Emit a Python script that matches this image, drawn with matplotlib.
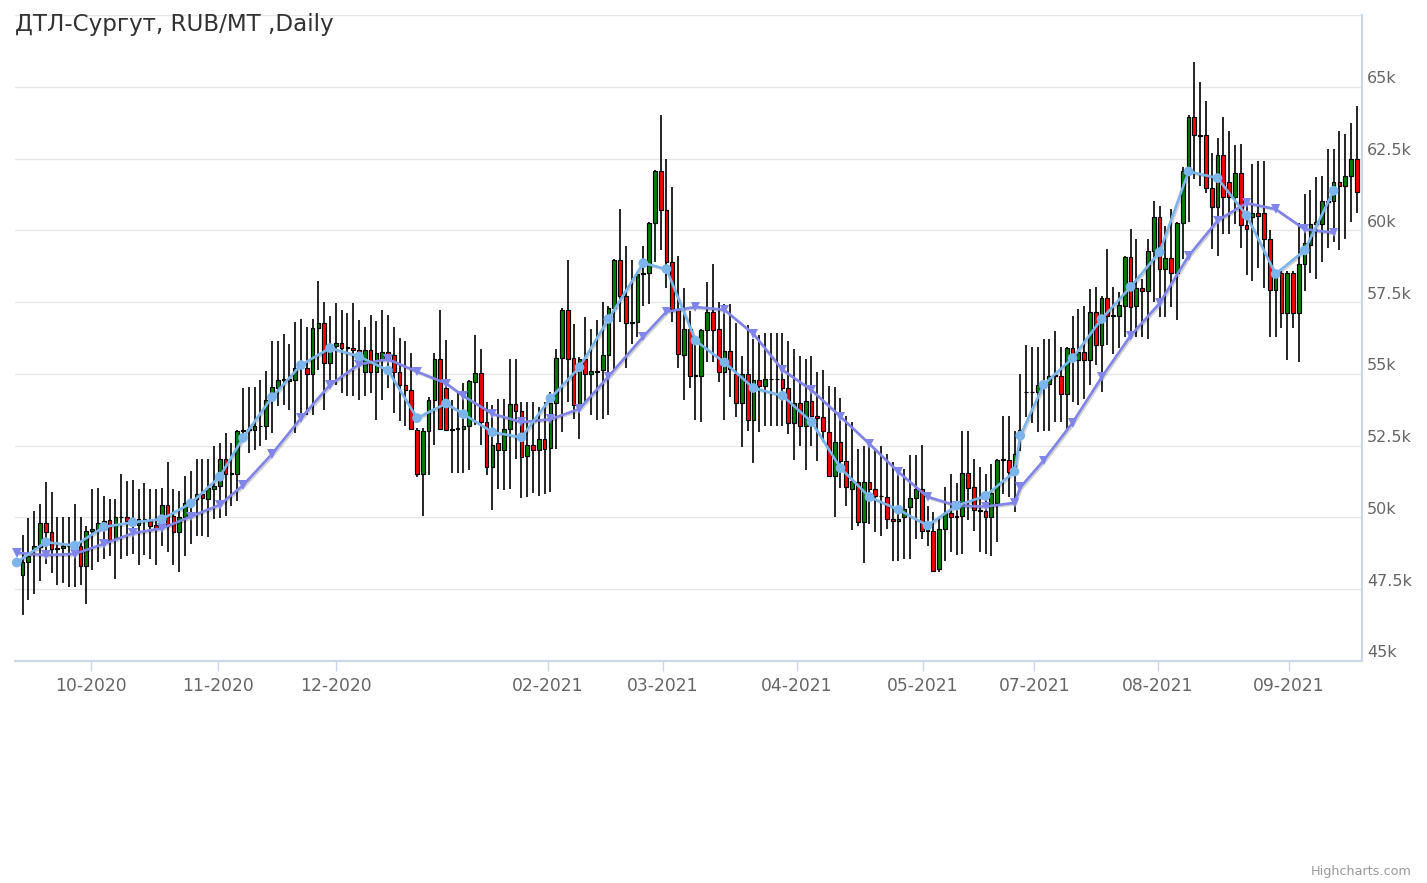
import matplotlib
matplotlib.use("Agg")
import matplotlib.pyplot as plt
import matplotlib.patheffects as pe
import matplotlib.transforms as mtransforms

title = "ДТЛ-Сургут, RUB/MT ,Daily"

# prices in thousand RUB per MT, one entry per trading day (ordinal axis)
opens = [
    48.0, 48.44, 48.9, 48.96, 49.79, 49.48, 48.9, 48.93, 49.02, 48.99,
    49.02, 48.3, 49.54, 49.57, 49.74, 49.9, 49.25, 50.0, 50.0, 49.88,
    49.73, 49.94, 49.88, 49.74, 49.69, 50.44, 50.04, 49.48, 50.0, 50.46,
    50.63, 50.81, 50.63, 50.98, 51.1, 52.04, 51.53, 51.53, 53.0, 53.05,
    53.06, 53.17, 53.2, 54.1, 54.51, 54.8, 54.74, 54.8, 55.2, 55.2,
    54.99, 56.6, 56.77, 55.38, 55.96, 56.07, 55.9, 55.9, 55.82, 55.05,
    55.82, 55.05, 55.49, 55.76, 55.67, 55.05, 54.62, 54.45, 53.06, 51.5,
    53.0, 54.08, 55.52, 54.52, 53.06, 53.09, 53.09, 53.17, 54.72, 55.03,
    53.33, 51.77, 52.58, 52.35, 53.08, 53.94, 53.7, 52.14, 52.51, 52.35,
    52.72, 52.43, 53.97, 55.56, 57.24, 55.56, 53.91, 55.51, 54.98, 55.1,
    55.13, 55.65, 57.29, 58.97, 57.71, 56.78, 56.8, 58.48, 58.52, 60.25,
    62.06, 60.71, 58.91, 57.27, 55.65, 56.55, 54.93, 54.91, 56.53, 57.15,
    56.57, 55.06, 55.81, 55.0, 53.99, 55.0, 53.41, 54.79, 54.57, 54.83,
    54.83, 54.83, 54.5, 53.29, 53.99, 53.17, 54.05, 53.55, 53.49, 52.97,
    51.45, 52.62, 51.98, 50.99, 51.22, 49.83, 51.22, 50.99, 50.76, 50.7,
    49.94, 49.88, 50.03, 50.35, 50.66, 50.99, 49.53, 49.53, 48.2, 49.59,
    50.17, 50.0, 50.06, 51.55, 51.05, 50.25, 50.23, 50.0, 50.52, 52.01,
    52.01, 51.6, 53.0, 54.36, 54.36, 54.36, 54.62, 54.65, 54.94, 54.94,
    54.3, 55.91, 55.47, 55.76, 55.47, 57.15, 55.99, 57.64, 57.03, 57.01,
    57.38, 59.07, 57.38, 58.0, 57.88, 59.29, 60.45, 58.66, 59.04, 58.5,
    60.24, 62.07, 63.95, 63.32, 63.32, 61.47, 60.8, 62.62, 61.69, 61.17,
    61.99, 60.2, 60.47, 60.59, 60.59, 59.7, 57.93, 58.5, 57.12, 58.5,
    57.12, 58.81, 59.5, 60.22, 60.22, 61.03, 61.03, 61.69, 61.55, 61.9,
    62.5,
]
highs = [
    49.4, 49.97, 50.23, 50.46, 51.23, 50.89, 50.0, 50.0, 50.0, 50.46,
    50.0, 49.71, 50.98, 51.04, 50.73, 50.63, 50.63, 51.5, 51.27, 51.3,
    50.98, 51.2, 50.98, 50.98, 51.04, 51.94, 50.98, 50.92, 51.44, 51.61,
    52.04, 52.04, 52.02, 52.5, 52.59, 52.94, 52.59, 53.05, 54.5, 54.56,
    54.56, 54.8, 55.09, 56.13, 56.13, 56.39, 56.04, 56.8, 56.9, 56.65,
    56.9, 58.25, 57.52, 57.0, 57.47, 57.23, 57.12, 57.47, 56.88, 56.65,
    57.06, 56.83, 57.21, 57.06, 56.65, 56.25, 56.13, 55.73, 53.1, 53.1,
    54.2, 55.73, 57.23, 56.19, 54.1, 54.33, 54.68, 54.8, 56.34, 55.88,
    54.02, 53.9, 54.14, 54.14, 55.53, 55.53, 54.02, 54.02, 54.02, 53.85,
    54.02, 54.37, 55.88, 57.3, 58.95, 56.75, 55.6, 56.98, 56.57, 56.86,
    57.5, 57.38, 59.0, 60.74, 59.47, 58.95, 58.5, 59.47, 60.28, 62.1,
    64.0, 62.5, 61.5, 59.1, 58.0, 57.2, 56.2, 56.55, 58.2, 58.84,
    57.5, 57.44, 57.44, 56.78, 55.62, 56.69, 56.22, 56.34, 56.42, 56.42,
    56.42, 56.42, 56.16, 55.87, 55.62, 55.52, 55.64, 55.06, 55.12, 54.59,
    54.53, 54.15, 53.55, 53.31, 52.38, 52.5, 52.5, 52.41, 52.5, 52.21,
    51.92, 51.69, 51.69, 52.17, 52.17, 52.52, 50.4, 50.2, 50.0, 51.05,
    51.51, 51.2, 53.02, 53.0, 52.03, 51.74, 51.51, 51.86, 52.03, 53.55,
    53.55, 53.02, 55.0, 55.99, 55.93, 55.93, 56.22, 56.22, 56.51, 55.93,
    55.93, 57.03, 57.27, 57.38, 57.97, 58.02, 57.7, 59.36, 58.02, 57.85,
    59.1, 60.06, 59.71, 58.31, 59.7, 61.03, 60.86, 60.16, 60.74, 60.3,
    62.2, 64.0, 65.87, 65.17, 64.5, 62.7, 63.23, 63.95, 63.46, 62.96,
    63.0, 61.03, 62.3, 62.42, 62.42, 60.0, 58.6, 58.6, 58.6, 58.6,
    60.24, 61.25, 61.4, 61.85, 61.9, 62.85, 62.85, 63.46, 63.35, 63.75,
    64.33,
]
lows = [
    46.6, 47.12, 47.35, 47.78, 48.39, 48.08, 47.64, 47.7, 47.58, 47.58,
    47.64, 46.98, 48.16, 48.44, 48.56, 48.64, 47.85, 48.56, 48.67, 48.73,
    48.33, 48.7, 48.56, 48.35, 49.02, 48.79, 48.33, 48.1, 48.67, 49.08,
    49.37, 49.35, 49.31, 49.94, 49.97, 50.06, 50.4, 50.57, 52.9, 52.24,
    52.36, 52.48, 52.7, 52.94, 53.87, 53.93, 53.75, 52.94, 53.5, 53.58,
    53.58, 55.15, 53.75, 54.51, 54.62, 54.33, 54.22, 54.22, 54.1, 54.22,
    54.33, 53.4, 54.1, 54.51, 53.64, 53.35, 53.17, 53.06, 51.4, 50.04,
    51.49, 52.53, 53.06, 53.0, 51.55, 51.55, 51.55, 51.66, 53.21, 52.51,
    51.47, 50.25, 51.0, 50.95, 51.0, 52.05, 50.66, 50.71, 50.85, 50.75,
    50.8, 50.89, 52.4, 52.98, 54.02, 53.44, 52.74, 54.02, 53.56, 53.38,
    53.44, 53.56, 55.18, 56.81, 55.19, 56.05, 56.3, 57.38, 57.44, 58.9,
    59.3, 58.0, 56.8, 55.2, 54.1, 54.5, 53.4, 53.31, 55.41, 55.41,
    54.71, 53.41, 54.19, 53.49, 52.44, 53.0, 51.9, 52.97, 53.2, 53.2,
    53.2, 53.2, 52.91, 52.01, 52.48, 51.66, 52.5, 51.98, 52.62, 51.45,
    50.03, 51.02, 50.41, 49.57, 49.7, 48.43, 49.77, 49.5, 49.34, 49.59,
    48.49, 48.49, 48.55, 48.55, 49.24, 49.24, 49.0, 48.1, 48.1, 48.49,
    48.78, 48.7, 48.72, 49.9, 49.53, 48.78, 48.72, 48.66, 49.13, 50.8,
    50.7, 50.2, 52.3, 53.5, 53.3, 52.97, 53.02, 53.02, 53.31, 53.31,
    53.08, 54.01, 53.9, 54.13, 54.6, 55.3, 54.36, 56.0, 55.7, 55.9,
    56.3, 56.5, 56.3, 56.3, 56.23, 57.5, 56.98, 56.98, 57.33, 56.86,
    59.0, 60.3, 61.8, 61.55, 61.3, 59.35, 59.12, 59.88, 59.88, 60.22,
    59.4, 58.43, 58.25, 58.7, 58.0, 56.28, 56.28, 56.6, 55.5, 56.6,
    55.4, 57.88, 58.5, 58.3, 58.9, 59.4, 59.6, 59.3, 59.7, 60.3,
    60.6,
]
closes = [
    48.44, 48.67, 49.0, 49.79, 49.48, 48.9, 48.93, 49.02, 48.99, 49.02,
    48.3, 49.54, 49.6, 49.79, 49.88, 49.2, 50.0, 50.0, 49.88, 49.95,
    49.94, 49.9, 49.69, 49.62, 50.44, 49.71, 49.48, 50.0, 50.52, 50.63,
    50.81, 50.69, 51.04, 51.1, 52.04, 51.53, 51.55, 53.0, 53.05, 53.09,
    53.17, 53.2, 54.1, 54.56, 54.8, 54.82, 54.82, 55.2, 55.26, 54.99,
    56.6, 56.77, 55.38, 56.04, 56.07, 55.9, 55.92, 55.82, 55.67, 55.82,
    55.05, 55.73, 55.76, 55.5, 55.05, 54.62, 54.45, 53.09, 51.5, 53.0,
    54.08, 55.52, 53.09, 53.04, 53.09, 53.11, 53.17, 54.74, 55.03, 53.33,
    51.77, 52.52, 52.35, 53.08, 53.94, 53.7, 52.12, 52.51, 52.35, 52.72,
    52.37, 53.97, 55.56, 57.24, 55.53, 53.91, 55.51, 54.98, 55.1, 55.05,
    55.65, 57.29, 58.97, 57.71, 56.78, 56.8, 58.48, 58.52, 60.25, 62.06,
    60.71, 58.91, 57.27, 55.68, 56.55, 54.93, 54.95, 56.53, 57.15, 56.53,
    55.06, 55.81, 55.17, 53.99, 55.0, 53.41, 54.77, 54.57, 54.83, 54.83,
    54.83, 54.5, 53.29, 53.99, 53.17, 54.05, 53.55, 53.45, 53.02, 51.45,
    52.62, 51.98, 51.05, 51.28, 49.83, 51.22, 50.99, 50.76, 50.76, 49.94,
    49.88, 49.94, 50.31, 50.69, 50.99, 49.53, 49.55, 48.14, 49.59, 50.17,
    50.0, 50.05, 51.55, 51.01, 50.27, 50.23, 50.0, 50.85, 52.01, 52.03,
    51.57, 52.21, 53.05, 54.38, 54.38, 54.62, 54.65, 54.94, 54.96, 54.3,
    55.91, 55.7, 55.76, 55.47, 57.15, 55.99, 57.64, 57.03, 57.05, 57.41,
    59.07, 57.33, 58.0, 57.88, 59.29, 60.45, 58.66, 59.04, 58.5, 60.24,
    62.07, 63.95, 63.32, 63.3, 61.47, 60.8, 62.62, 61.17, 61.17, 61.99,
    60.2, 60.05, 60.59, 60.5, 59.7, 57.93, 58.5, 57.12, 58.5, 57.12,
    58.81, 59.55, 60.22, 60.3, 61.03, 61.0, 61.69, 61.55, 61.9, 62.5,
    61.32,
]

# weekly moving-average points (position on the ordinal axis, value in k)
ma_x = [-1, 4, 9, 14, 19, 24, 29, 34, 38, 43, 48, 53, 58, 63, 68, 73, 76, 81,
        86, 91, 96, 101, 107, 111, 116, 121, 126, 131, 136, 141, 146, 151,
        156, 161, 166, 171, 172, 176, 181, 186, 191, 196, 201, 206, 211, 216,
        221, 226]
ma_fast = [48.43, 49.14, 49.02, 49.67, 49.83, 49.94, 50.49, 51.42, 52.77, 54.19,
           55.31, 55.9, 55.61, 55.12, 53.46, 53.97, 53.6, 52.97, 52.79, 54.15,
           55.23, 56.91, 58.86, 58.65, 56.16, 55.4, 54.51, 54.24, 53.33, 51.72,
           50.71, 50.27, 49.72, 50.41, 50.75, 51.6, 52.85, 54.62, 55.55, 56.91,
           58.03, 59.24, 62.05, 61.82, 60.52, 58.48, 59.3, 61.38]
ma_slow = [48.77, 48.69, 48.73, 49.08, 49.45, 49.62, 50.03, 50.44, 51.12, 52.21,
           53.46, 54.62, 55.33, 55.51, 55.08, 54.67, 54.23, 53.61, 53.32, 53.42,
           53.78, 54.91, 56.3, 57.17, 57.33, 57.23, 56.39, 55.14, 54.44, 53.51,
           52.56, 51.58, 50.72, 50.41, 50.38, 50.51, 51.05, 51.98, 53.3, 54.88,
           56.33, 57.46, 59.11, 60.34, 60.95, 60.74, 60.04, 59.92]

tick_pos = [11.8, 33.7, 54.0, 90.6, 110.4, 133.5, 155.2, 174.4, 195.7, 218.3]
tick_labels = ["10-2020", "11-2020", "12-2020", "02-2021", "03-2021",
               "04-2021", "05-2021", "07-2021", "08-2021", "09-2021"]
y_grid = [47.5, 50, 52.5, 55, 57.5, 60, 62.5, 65, 67.5]
y_labels = [45, 47.5, 50, 52.5, 55, 57.5, 60, 62.5, 65]

plt.rcParams['font.family'] = ['DejaVu Sans']

W, H = 1427, 883
fig = plt.figure(figsize=(W / 100, H / 100), dpi=100)
L, R, T, B = 15, 1362, 15, 661
ax = fig.add_axes([L / W, 1 - B / H, (R - L) / W, (B - T) / H])
ax.set_xlim(-1.3, 230.9)
ax.set_ylim(45, 67.5)

for v in y_grid:
    ax.axhline(v, color='#e6e6e6', lw=1.0, zorder=0)

xs = list(range(len(closes)))
up = '#008000'
down = '#ff0000'
ax.vlines(xs, lows, highs, color='black', lw=1.2, zorder=2)
bottoms = [min(o, c) for o, c in zip(opens, closes)]
heights = [abs(c - o) for o, c in zip(opens, closes)]
cols = [down if c < o else up for o, c in zip(opens, closes)]
ax.bar(xs, heights, bottom=bottoms, width=0.64, color=cols,
       edgecolor='black', linewidth=0.85, zorder=3)

shadow = [pe.SimpleLineShadow(offset=(1, -1), alpha=0.18, shadow_color='black'),
          pe.Normal()]
ax.plot(ma_x, ma_slow, color='#8085e9', lw=1.9, marker='v', ms=7,
        markeredgewidth=0, zorder=4, path_effects=shadow, clip_on=False)
ax.plot(ma_x, ma_fast, color='#7cb5ec', lw=1.9, marker='o', ms=7,
        markeredgewidth=0, zorder=5, path_effects=shadow, clip_on=False)

for s in ['left', 'top']:
    ax.spines[s].set_visible(False)
ax.spines['bottom'].set_color('#ccd6eb')
ax.spines['bottom'].set_linewidth(1.5)
ax.spines['right'].set_color('#ccd6eb')
ax.spines['right'].set_linewidth(1.5)

ax.set_yticks([])
ax.set_xticks(tick_pos)
ax.set_xticklabels(tick_labels)
ax.tick_params(axis='x', length=7, width=1, color='#ccd6eb',
               labelcolor='#666666', labelsize=12.3, pad=4.5)

ytrans = mtransforms.offset_copy(ax.get_yaxis_transform(), fig=fig,
                                 x=3.5, y=5.8, units='points')
for v in y_labels:
    ax.text(1.0, v, f"{v:g}k", transform=ytrans, ha='left', va='center',
            fontsize=11.5, color='#666666', clip_on=False)

fig.text(L / W, 1 - 24 / H, title, ha='left', va='center',
         fontsize=16.6, color='#333333')
fig.text(1412 / W, 1 - 872 / H, "Highcharts.com", ha='right', va='center',
         fontsize=9.2, color='#999999')

fig.savefig('out.png', dpi=100, facecolor='white')
